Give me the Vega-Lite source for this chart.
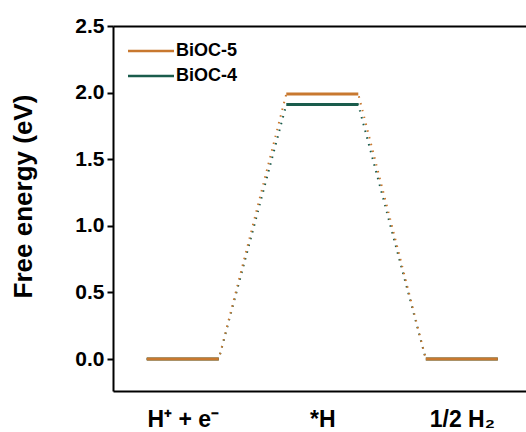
{
  "$schema": "https://vega.github.io/schema/vega-lite/v6.json",
  "width": 413,
  "height": 365,
  "autosize": {"type": "none"},
  "padding": {"left": 113, "top": 26, "right": 0, "bottom": 41},
  "background": "white",
  "config": {
    "font": "Liberation Sans",
    "view": {"stroke": null},
    "axis": {"grid": false, "domainColor": "black", "domainWidth": 2, "tickColor": "black", "labelColor": "black", "titleColor": "black"}
  },
  "datasets": {
    "levels": [
      {"series": "BiOC-4", "state": "H+ + e-", "x_start": 0.742, "x_end": 1.258, "energy": 0},
      {"series": "BiOC-4", "state": "*H", "x_start": 1.742, "x_end": 2.258, "energy": 1.91},
      {"series": "BiOC-4", "state": "1/2 H2", "x_start": 2.742, "x_end": 3.258, "energy": 0},
      {"series": "BiOC-5", "state": "H+ + e-", "x_start": 0.742, "x_end": 1.258, "energy": 0},
      {"series": "BiOC-5", "state": "*H", "x_start": 1.742, "x_end": 2.258, "energy": 1.99},
      {"series": "BiOC-5", "state": "1/2 H2", "x_start": 2.742, "x_end": 3.258, "energy": 0}
    ]
  },
  "data": {"name": "levels"},
  "layer": [
    {
      "transform": [{"fold": ["x_start", "x_end"], "as": ["edge", "x"]}],
      "mark": {"type": "line", "strokeWidth": 2, "strokeDash": [1.5, 5.5], "clip": true},
      "encoding": {
        "x": {
          "field": "x", "type": "quantitative",
          "scale": {"domain": [0.5, 3.46], "nice": false, "zero": false},
          "axis": {
            "orient": "bottom", "title": null, "values": [1, 2, 3], "ticks": false,
            "labelExpr": "datum.value == 1 ? 'H⁺ + e⁻' : datum.value == 2 ? '*H' : '1/2 H₂'",
            "labelFontSize": 23, "labelFontWeight": "bold", "labelPadding": 17, "labelFlush": false
          }
        },
        "y": {
          "field": "energy", "type": "quantitative",
          "scale": {"domain": [-0.24, 2.5], "nice": false, "zero": false},
          "axis": {
            "title": "Free energy (eV)", "titleFontSize": 26, "titleFontWeight": "bold", "titlePadding": 38,
            "titleY": 170,
            "values": [0, 0.25, 0.5, 0.75, 1, 1.25, 1.5, 1.75, 2, 2.25, 2.5],
            "labelExpr": "datum.value % 0.5 === 0 ? format(datum.value, '.1f') : ''",
            "labelFontSize": 21, "labelFontWeight": "bold", "labelPadding": 3,
            "tickWidth": 2,
            "tickSize": {"condition": {"test": "datum.value % 0.5 === 0", "value": 6}, "value": 3}
          }
        },
        "color": {
          "field": "series", "type": "nominal",
          "scale": {"domain": ["BiOC-5", "BiOC-4"], "range": ["#C8782F", "#1A5C4C"]},
          "legend": {
            "title": null, "orient": "none", "legendX": 29, "legendY": 16,
            "symbolType": "M-3,0H3", "symbolSize": 235, "symbolStrokeWidth": 2.5, "symbolFillColor": "transparent",
            "labelFontSize": 18, "labelFontWeight": "bold", "labelColor": "black", "labelOffset": 16,
            "rowPadding": 7, "symbolDash": []
          }
        },
        "detail": {"field": "series"},
        "order": {"field": "x", "type": "quantitative"}
      }
    },
    {
      "mark": {"type": "rule", "strokeWidth": 3},
      "encoding": {
        "x": {
          "field": "x_start", "type": "quantitative",
          "axis": {"orient": "top", "title": null, "labels": false, "ticks": false}
        },
        "x2": {"field": "x_end"},
        "y": {"field": "energy", "type": "quantitative"},
        "color": {"field": "series", "type": "nominal"}
      }
    }
  ],
  "resolve": {"axis": {"x": "independent"}}
}
